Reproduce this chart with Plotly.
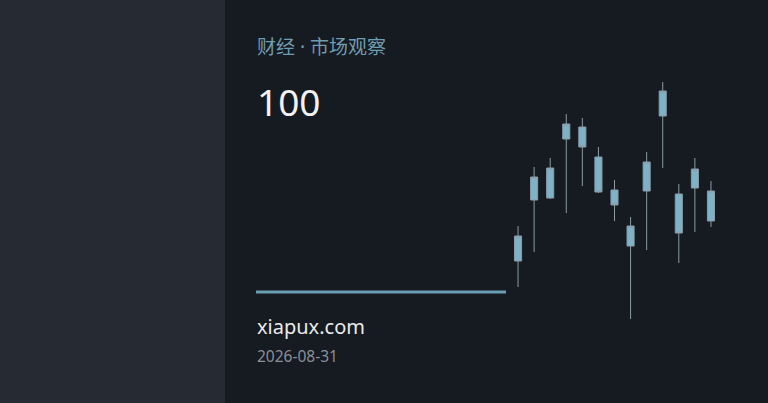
import plotly.graph_objects as go

# Data
idx = list(range(13))
opens = [96.95, 100.00, 100.10, 103.05, 103.65, 102.15, 100.50, 97.70, 100.45, 104.20, 100.30, 100.60, 98.95]
closes = [98.20, 101.15, 101.60, 103.80, 102.65, 100.40, 99.75, 98.70, 101.90, 105.45, 98.35, 101.55, 100.45]
highs = [98.70, 101.65, 102.10, 104.30, 104.10, 102.65, 101.00, 99.15, 102.40, 105.90, 100.80, 102.10, 100.95]
lows = [95.65, 97.40, 100.05, 99.35, 100.70, 100.35, 98.95, 94.05, 97.50, 101.60, 96.85, 98.40, 98.65]

title_text = "财经 · 市场观察"
value_text = "100"
site_text = "xiapux.com"
date_text = "2026-08-31"

W, H = 768, 403
CANDLE = "#7db2c7"
WICK = "#8c9ba6"

fig = go.Figure()
fig.add_trace(go.Candlestick(
    x=idx, open=opens, high=highs, low=lows, close=closes,
    increasing=dict(line=dict(color=WICK, width=1), fillcolor=CANDLE),
    decreasing=dict(line=dict(color=WICK, width=1), fillcolor=CANDLE),
    whiskerwidth=0, showlegend=False, hoverinfo="skip",
))

x_left = 510 / W
x_right = 719 / W

fig.update_layout(
    width=W, height=H,
    margin=dict(l=0, r=0, t=0, b=0),
    paper_bgcolor="#161a21",
    plot_bgcolor="rgba(0,0,0,0)",
    boxgap=0.37,
    xaxis=dict(domain=[x_left, x_right], range=[-0.5, 12.5], visible=False,
               rangeslider=dict(visible=False), fixedrange=True),
    yaxis=dict(domain=[0, 1], range=[89.85, 110], visible=False, fixedrange=True),
    font=dict(family="Noto Sans, Open Sans, sans-serif"),
    shapes=[
        dict(type="rect", xref="paper", yref="paper", x0=0, x1=225 / W, y0=0, y1=1,
             fillcolor="#262a33", line=dict(width=0), layer="below"),
        dict(type="line", xref="paper", yref="paper", x0=256 / W, x1=506 / W,
             y0=1 - 292 / H, y1=1 - 292 / H, line=dict(color="#6a9fb1", width=3)),
    ],
    annotations=[
        dict(text=title_text, xref="paper", yref="paper", x=255 / W, y=1 - 47 / H,
             xanchor="left", yanchor="middle", showarrow=False,
             font=dict(size=19, color="#6f9db0", family="Noto Sans, Noto Sans CJK SC, sans-serif")),
        dict(text=value_text, xref="paper", yref="paper", x=255 / W, y=1 - 102 / H,
             xanchor="left", yanchor="middle", showarrow=False,
             font=dict(size=37, color="#f2f2f2", family="Noto Sans, sans-serif")),
        dict(text=site_text, xref="paper", yref="paper", x=255 / W, y=1 - 326 / H,
             xanchor="left", yanchor="middle", showarrow=False,
             font=dict(size=20, color="#eaeaea", family="Noto Sans, sans-serif")),
        dict(text=date_text, xref="paper", yref="paper", x=255 / W, y=1 - 356 / H,
             xanchor="left", yanchor="middle", showarrow=False,
             font=dict(size=15.5, color="#8a8f99", family="Noto Sans, sans-serif")),
    ],
)

fig.write_html("out.html", config={"displayModeBar": False, "staticPlot": True},
               post_script="document.body.style.margin='0';document.body.style.overflow='hidden';")
